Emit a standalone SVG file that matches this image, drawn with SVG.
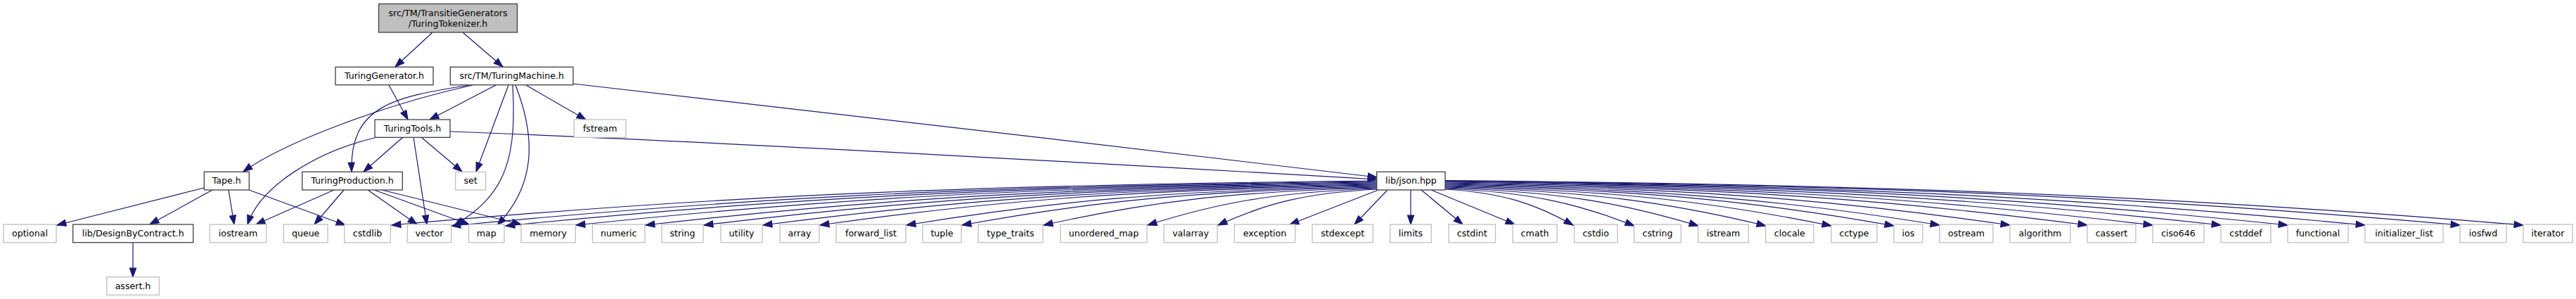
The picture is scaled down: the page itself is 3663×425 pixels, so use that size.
<svg xmlns="http://www.w3.org/2000/svg" width="3663" height="425" viewBox="0 0 3663 425">
<style>
.n rect{fill:#ffffff;stroke:#404040;stroke-width:1.3}
.n.ext rect{stroke:#bfbfbf}
.n.root rect{fill:#bfbfbf}
.n text{font-family:"DejaVu Sans","Liberation Sans",sans-serif;font-size:12.6px;fill:#000;text-anchor:middle}
#edges path{fill:none;stroke:#191970;stroke-width:1.2;marker-end:url(#ah)}
</style>
<defs>
<marker id="ah" markerUnits="userSpaceOnUse" viewBox="-1 -6 15 12" refX="12.8" refY="0" markerWidth="15" markerHeight="12" orient="auto" overflow="visible">
<path d="M0,-4.5 L12.8,0 L0,4.5 z" fill="#191970" stroke="#191970" stroke-width="1.2"/>
</marker>
</defs>
<rect x="0" y="0" width="3663" height="425" fill="#ffffff"/>
<g id="edges">
<path d="M615,46 L562,95"/>
<path d="M658,46 L715,95"/>
<path d="M553,121 L580,170"/>
<path d="M705,121 L611,170"/>
<path d="M748,121 L833,170"/>
<path d="M723,121 L677,244"/>
<path d="M729,121 C734,215 725,275 646,320"/>
<path d="M733,121 C760,190 765,260 707,320"/>
<path d="M672,121 C540,150 400,205 346,244"/>
<path d="M667,121 C560,138 497,150 500,244"/>
<path d="M573,195 L517,244"/>
<path d="M599,195 L657,244"/>
<path d="M588,195 L607,319"/>
<path d="M533,196 C450,215 370,265 352,319"/>
<path d="M640,187 C1000,200 1700,240 1958,255"/>
<path d="M815,119 C1100,150 1600,210 1958,252"/>
<path d="M290,267 L81,320"/>
<path d="M302,270 L213,319"/>
<path d="M325,270 L333,319"/>
<path d="M354,270 L491,320"/>
<path d="M189,345 L189,394"/>
<path d="M475,270 L364,319"/>
<path d="M489,270 L447,319"/>
<path d="M523,270 L593,319"/>
<path d="M532,270 L667,319"/>
<path d="M543,270 L741,319"/>
<path d="M1958,257 C1327.5,263.3 977.3,282.2 557,320"/>
<path d="M1958,258 C1365.8,264.3 1036.8,283.2 642,321"/>
<path d="M1958,259 C1400.5,265.2 1090.7,283.8 719,321"/>
<path d="M1958,260 C1445.5,266 1160.7,284 819,320"/>
<path d="M1958,261 C1490,266.9 1230,284.6 918,320"/>
<path d="M1958,262 C1527.4,267.8 1288.1,285.2 1001,320"/>
<path d="M1958,263 C1565.2,268.7 1346.9,285.8 1085,320"/>
<path d="M1958,264 C1601.6,269.6 1403.6,286.4 1166,320"/>
<path d="M1958,265 C1657,270.5 1489.7,287 1289,320"/>
<path d="M1958,266 C1692.5,271.4 1545,287.6 1368,320"/>
<path d="M1958,267 C1744.7,272.3 1626.2,288.2 1484,320"/>
<path d="M1958,268 C1811.3,273.2 1729.8,288.8 1632,320"/>
<path d="M1958,269 C1856.3,274.1 1799.8,289.4 1732,320"/>
<path d="M1960,270 L1834,319"/>
<path d="M1973,270 L1926,319"/>
<path d="M2006,270 L2006,319"/>
<path d="M2021,270 L2080,319"/>
<path d="M2035,270 L2154,319"/>
<path d="M2055,269 C2136.9,274.1 2182.4,289.4 2237,320"/>
<path d="M2055,268 C2176,273.3 2243.3,289.2 2324,321"/>
<path d="M2055,267 C2217,272.4 2307,288.6 2415,321"/>
<path d="M2055,266 C2260.2,271.5 2374.2,288 2511,321"/>
<path d="M2055,265 C2302,270.6 2439.3,287.4 2604,321"/>
<path d="M2055,264 C2342.1,269.7 2501.6,286.8 2693,321"/>
<path d="M2055,263 C2371.4,268.7 2547.1,285.8 2758,320"/>
<path d="M2055,262 C2416.4,267.8 2617.1,285.2 2858,320"/>
<path d="M2055,261 C2465.9,266.9 2694.1,284.6 2968,320"/>
<path d="M2055,260 C2507.7,266 2759.2,284 3061,320"/>
<path d="M2055,259 C2551.4,265.1 2827.1,283.4 3158,320"/>
<path d="M2055,258 C2594.1,264.2 2893.6,282.8 3253,320"/>
<path d="M2055,257.5 C2643.6,263.75 2970.6,282.5 3363,320"/>
<path d="M2055,257 C2704.4,263.3 3065.1,282.2 3498,320"/>
<path d="M2055,256.5 C2744.9,262.85 3128.1,281.9 3588,320"/>
</g>
<g id="node-root" class="n root"><rect x="538.5" y="5.5" width="197" height="40.5"/><text x="637" y="22.7">src/TM/TransitieGenerators</text><text x="637" y="37.5">/TuringTokenizer.h</text></g>
<g id="node-TuringGenerator" class="n"><rect x="477" y="95.3" width="139" height="25.4"/><text x="546.5" y="112.2">TuringGenerator.h</text></g>
<g id="node-TuringMachine" class="n"><rect x="640.3" y="95.3" width="174.7" height="25.4"/><text x="727.7" y="112.2">src/TM/TuringMachine.h</text></g>
<g id="node-TuringTools" class="n"><rect x="533" y="170" width="107" height="25.3"/><text x="586.5" y="186.9">TuringTools.h</text></g>
<g id="node-fstream" class="n ext"><rect x="816.3" y="170" width="73.7" height="25.3"/><text x="853.2" y="186.9">fstream</text></g>
<g id="node-Tape" class="n"><rect x="290.3" y="244.3" width="64" height="25.7"/><text x="322.3" y="261.4">Tape.h</text></g>
<g id="node-TuringProduction" class="n"><rect x="429.7" y="244.3" width="142.6" height="25.7"/><text x="501" y="261.4">TuringProduction.h</text></g>
<g id="node-set" class="n ext"><rect x="647.7" y="244.3" width="43" height="25.7"/><text x="669.2" y="261.4">set</text></g>
<g id="node-json" class="n"><rect x="1957.7" y="244.3" width="97.3" height="25.7"/><text x="2006.4" y="261.4">lib/json.hpp</text></g>
<g id="node-optional" class="n ext"><rect x="5" y="319" width="75" height="25.7"/><text x="42.5" y="336.1">optional</text></g>
<g id="node-DesignByContract" class="n"><rect x="103.7" y="319" width="171" height="25.7"/><text x="189.2" y="336.1">lib/DesignByContract.h</text></g>
<g id="node-iostream" class="n ext"><rect x="298.3" y="319" width="80.4" height="25.7"/><text x="338.5" y="336.1">iostream</text></g>
<g id="node-queue" class="n ext"><rect x="403.3" y="319" width="62.7" height="25.7"/><text x="434.65" y="336.1">queue</text></g>
<g id="node-cstdlib" class="n ext"><rect x="489.7" y="319" width="65.6" height="25.7"/><text x="522.5" y="336.1">cstdlib</text></g>
<g id="node-vector" class="n ext"><rect x="579.3" y="319" width="62.4" height="25.7"/><text x="610.5" y="336.1">vector</text></g>
<g id="node-map" class="n ext"><rect x="666.5" y="319" width="50.5" height="25.7"/><text x="691.75" y="336.1">map</text></g>
<g id="node-memory" class="n ext"><rect x="741" y="319" width="77.3" height="25.7"/><text x="779.65" y="336.1">memory</text></g>
<g id="node-numeric" class="n ext"><rect x="842.5" y="319" width="74.5" height="25.7"/><text x="879.75" y="336.1">numeric</text></g>
<g id="node-string" class="n ext"><rect x="941" y="319" width="59" height="25.7"/><text x="970.5" y="336.1">string</text></g>
<g id="node-utility" class="n ext"><rect x="1025" y="319" width="59" height="25.7"/><text x="1054.5" y="336.1">utility</text></g>
<g id="node-array" class="n ext"><rect x="1109" y="319" width="56" height="25.7"/><text x="1137" y="336.1">array</text></g>
<g id="node-forward_list" class="n ext"><rect x="1189" y="319" width="99" height="25.7"/><text x="1238.5" y="336.1">forward_list</text></g>
<g id="node-tuple" class="n ext"><rect x="1312" y="319" width="55" height="25.7"/><text x="1339.5" y="336.1">tuple</text></g>
<g id="node-type_traits" class="n ext"><rect x="1391" y="319" width="92" height="25.7"/><text x="1437" y="336.1">type_traits</text></g>
<g id="node-unordered_map" class="n ext"><rect x="1508" y="319" width="123" height="25.7"/><text x="1569.5" y="336.1">unordered_map</text></g>
<g id="node-valarray" class="n ext"><rect x="1655" y="319" width="76" height="25.7"/><text x="1693" y="336.1">valarray</text></g>
<g id="node-exception" class="n ext"><rect x="1755.3" y="319" width="86.4" height="25.7"/><text x="1798.5" y="336.1">exception</text></g>
<g id="node-stdexcept" class="n ext"><rect x="1866" y="319" width="86.3" height="25.7"/><text x="1909.15" y="336.1">stdexcept</text></g>
<g id="node-limits" class="n ext"><rect x="1976.7" y="319" width="58.6" height="25.7"/><text x="2006" y="336.1">limits</text></g>
<g id="node-cstdint" class="n ext"><rect x="2060" y="319" width="66.5" height="25.7"/><text x="2093.25" y="336.1">cstdint</text></g>
<g id="node-cmath" class="n ext"><rect x="2151" y="319" width="63" height="25.7"/><text x="2182.5" y="336.1">cmath</text></g>
<g id="node-cstdio" class="n ext"><rect x="2238.5" y="319" width="61.5" height="25.7"/><text x="2269.25" y="336.1">cstdio</text></g>
<g id="node-cstring" class="n ext"><rect x="2323.7" y="319" width="66.6" height="25.7"/><text x="2357" y="336.1">cstring</text></g>
<g id="node-istream" class="n ext"><rect x="2414.7" y="319" width="71.6" height="25.7"/><text x="2450.5" y="336.1">istream</text></g>
<g id="node-clocale" class="n ext"><rect x="2510.7" y="319" width="68.3" height="25.7"/><text x="2544.85" y="336.1">clocale</text></g>
<g id="node-cctype" class="n ext"><rect x="2604" y="319" width="65" height="25.7"/><text x="2636.5" y="336.1">cctype</text></g>
<g id="node-ios" class="n ext"><rect x="2693" y="319" width="41" height="25.7"/><text x="2713.5" y="336.1">ios</text></g>
<g id="node-ostream" class="n ext"><rect x="2758" y="319" width="76" height="25.7"/><text x="2796" y="336.1">ostream</text></g>
<g id="node-algorithm" class="n ext"><rect x="2858" y="319" width="86" height="25.7"/><text x="2901" y="336.1">algorithm</text></g>
<g id="node-cassert" class="n ext"><rect x="2968" y="319" width="69" height="25.7"/><text x="3002.5" y="336.1">cassert</text></g>
<g id="node-ciso646" class="n ext"><rect x="3061" y="319" width="73" height="25.7"/><text x="3097.5" y="336.1">ciso646</text></g>
<g id="node-cstddef" class="n ext"><rect x="3158" y="319" width="71" height="25.7"/><text x="3193.5" y="336.1">cstddef</text></g>
<g id="node-functional" class="n ext"><rect x="3253" y="319" width="86" height="25.7"/><text x="3296" y="336.1">functional</text></g>
<g id="node-initializer_list" class="n ext"><rect x="3363" y="319" width="111" height="25.7"/><text x="3418.5" y="336.1">initializer_list</text></g>
<g id="node-iosfwd" class="n ext"><rect x="3498" y="319" width="66" height="25.7"/><text x="3531" y="336.1">iosfwd</text></g>
<g id="node-iterator" class="n ext"><rect x="3588" y="319" width="70" height="25.7"/><text x="3623" y="336.1">iterator</text></g>
<g id="node-assert" class="n ext"><rect x="151.7" y="393.7" width="74.6" height="25.6"/><text x="189" y="410.7">assert.h</text></g>
</svg>
